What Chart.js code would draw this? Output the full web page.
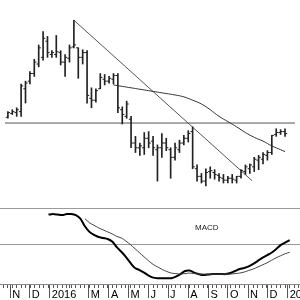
<!DOCTYPE html>
<html>
<head>
<meta charset="utf-8">
<script src="https://cdn.jsdelivr.net/npm/chart.js@4.4.1/dist/chart.umd.min.js"></script>
<style>
  body { margin: 0; background: #fff; }
  #wrap { position: relative; width: 300px; height: 300px; overflow: hidden; background: #fff; }
  #pricePane { position: absolute; left: 0; top: 0; width: 300px; height: 208px; }
  #macdPane { position: absolute; left: 0; top: 208px; width: 300px; height: 92px; }
  #macdLabel { position: absolute; left: 195px; top: 223px; font: 8px "Liberation Sans", Arial, sans-serif; color: #222; }
</style>
</head>
<body>
<div id="wrap">
  <div id="pricePane"><canvas id="priceChart"></canvas></div>
  <div id="macdPane"><canvas id="macdChart"></canvas></div>
  <div id="macdLabel">MACD</div>
</div>
<script>
// veckodata, första veckan
const firstWeek = '2015-10-21';

const highs  = [37.6,38.0,38.4,43.4,44.0,46.0,48.6,51.6,54.4,53.4,50.4,53.6,50.4,49.6,51.6,56.8,51.0,50.6,50.4,42.6,42.4,45.6,45.4,45.0,45.6,45.6,38.6,39.8,36.6,32.4,31.0,33.2,33.4,32.4,30.6,33.0,32.0,30.0,31.0,31.6,32.6,33.6,34.4,26.4,24.6,25.6,26.0,25.4,24.6,24.4,24.0,24.4,24.0,25.4,26.4,26.6,28.0,28.4,29.0,29.4,32.6,34.0,33.8,34.0];
const lows   = [36.2,37.0,36.6,36.6,39.4,43.4,45.0,47.0,48.4,49.0,49.0,49.0,47.4,45.0,48.0,51.0,44.6,47.6,39.4,38.4,39.6,42.4,43.2,43.6,43.4,37.4,35.0,36.2,30.0,29.0,28.4,28.6,30.0,28.4,23.0,28.0,29.4,23.6,27.4,29.0,30.6,31.2,25.6,23.0,22.6,22.0,23.6,23.4,23.0,22.6,22.6,22.6,22.6,23.6,24.4,24.6,25.0,25.4,26.6,27.4,28.6,32.4,32.8,32.4];
const opens  = [36.4,37.2,37.4,37.6,42.4,44.0,45.6,47.6,49.0,52.4,49.6,49.6,50.0,48.0,48.8,51.2,51.0,49.0,50.0,40.4,40.0,42.4,44.4,44.0,44.4,45.2,38.0,36.6,36.0,31.0,30.0,30.0,32.0,31.4,29.6,30.0,31.0,29.6,28.0,29.6,31.0,32.0,33.4,25.6,24.0,23.0,25.0,24.8,24.2,23.6,23.2,23.6,23.2,24.0,25.0,25.6,26.0,27.4,27.6,28.4,29.0,32.8,33.2,33.4];
const closes = [37.4,37.6,38.0,43.0,43.6,45.6,48.0,51.0,53.0,50.0,50.0,50.2,48.0,49.0,51.0,51.6,49.0,50.0,41.0,40.0,42.0,44.8,44.0,44.6,45.2,38.4,37.0,39.2,31.0,30.0,30.4,32.0,31.0,30.0,30.0,31.0,30.0,28.0,30.0,31.0,32.0,33.0,26.0,24.0,23.0,24.8,25.2,24.4,23.8,23.2,23.6,23.4,24.0,25.2,26.0,26.4,27.6,28.0,28.6,29.0,32.6,33.2,33.4,33.0];

// glidande medelvärde
const maWeeks  = [24,26,28,30,32,34,36,38,40,42,44,46,48,50,52,54,56,58,60,62,63];
const maValues = [43.2,42.9,42.6,42.3,42.0,41.7,41.4,41.1,40.7,40.0,39.2,38.0,36.6,35.5,34.4,33.2,32.2,31.4,30.4,29.6,29.2];

// trendlinje och stödnivå
const trendWeeks  = [15, 55.5];
const trendValues = [56.8, 23.1];
const supportLevel = 35.2;

// MACD
const macdStart = 10;
const macdValues = [1.18,1.20,1.18,1.16,1.20,1.20,1.16,1.02,0.72,0.50,0.38,0.30,0.26,0.22,0.12,-0.10,-0.28,-0.48,-0.72,-0.92,-1.00,-1.10,-1.22,-1.30,-1.32,-1.32,-1.32,-1.32,-1.26,-1.16,-1.04,-1.02,-1.10,-1.16,-1.20,-1.18,-1.16,-1.16,-1.16,-1.16,-1.12,-1.04,-0.96,-0.92,-0.86,-0.76,-0.64,-0.52,-0.42,-0.32,-0.18,-0.02,0.08,0.18];
const signalStart = 18;
const signalValues = [1.02,0.86,0.76,0.66,0.58,0.50,0.42,0.32,0.26,0.14,0.00,-0.16,-0.32,-0.48,-0.64,-0.78,-0.88,-0.98,-1.06,-1.12,-1.14,-1.16,-1.14,-1.12,-1.14,-1.16,-1.16,-1.16,-1.16,-1.16,-1.16,-1.16,-1.16,-1.14,-1.12,-1.08,-1.02,-0.96,-0.88,-0.80,-0.72,-0.62,-0.52,-0.44,-0.36,-0.30];

// x-axel
const monthStarts = ['2015-11-01','2015-12-01','2016-01-01','2016-02-01','2016-03-01','2016-04-01','2016-05-01','2016-06-01','2016-07-01','2016-08-01','2016-09-01','2016-10-01','2016-11-01','2016-12-01','2017-01-01'];
const monthLabels = ['N','D','2016','','M','A','M','J','J','A','S','O','N','D','2017'];

const xMin = -0.66, xMax = 65.27;
const priceMin = 18.4, priceMax = 60;
const macdMin = -1.55, macdMax = 1.44;

const DAY = 86400000;
function weekOf(d) {
    return (Date.parse(d) - Date.parse(firstWeek)) / (7 * DAY);
}
const monthPos = monthStarts.map(weekOf);
let weekTicks = [];
for (let w = 0; w <= 65; w++) weekTicks.push(w);
weekTicks = weekTicks.concat(monthPos).sort((a, b) => a - b);

const weeks = highs.map((_, i) => i);
const tickShift = 0.24;
const barColor = '#222';

const common = {
    responsive: true,
    maintainAspectRatio: false,
    animation: false,
    events: [],
    layout: { padding: 0 },
    plugins: { legend: { display: false }, tooltip: { enabled: false } }
};

new Chart(document.getElementById('priceChart'), {
    type: 'bar',
    data: {
        datasets: [
            {
                type: 'bar',
                data: weeks.map(i => ({ x: i, y: [lows[i], highs[i]] })),
                backgroundColor: barColor,
                borderWidth: 0,
                barThickness: 1
            },
            {
                type: 'scatter',
                data: weeks.map(i => ({ x: i - tickShift, y: opens[i] })),
                pointStyle: 'line', pointRadius: 1.1, borderColor: barColor, borderWidth: 1
            },
            {
                type: 'scatter',
                data: weeks.map(i => ({ x: i + tickShift, y: closes[i] })),
                pointStyle: 'line', pointRadius: 1.1, borderColor: barColor, borderWidth: 1
            },
            {
                type: 'line',
                data: maWeeks.map((w, k) => ({ x: w, y: maValues[k] })),
                borderColor: '#333', borderWidth: 1, pointRadius: 0, tension: 0.4
            },
            {
                type: 'line',
                data: trendWeeks.map((w, k) => ({ x: w, y: trendValues[k] })),
                borderColor: '#555', borderWidth: 1, pointRadius: 0
            },
            {
                type: 'line',
                data: [{ x: xMin, y: supportLevel }, { x: xMax, y: supportLevel }],
                borderColor: '#555', borderWidth: 1, pointRadius: 0
            }
        ]
    },
    options: Object.assign({}, common, {
        scales: {
            x: { type: 'linear', min: xMin, max: xMax, offset: false, display: false, grid: { offset: false } },
            y: { type: 'linear', min: priceMin, max: priceMax, display: false, beginAtZero: false }
        }
    })
});

new Chart(document.getElementById('macdChart'), {
    type: 'line',
    data: {
        datasets: [
            {
                data: signalValues.map((v, k) => ({ x: signalStart + k, y: v })),
                borderColor: '#444', borderWidth: 1, pointRadius: 0, tension: 0.3
            },
            {
                data: macdValues.map((v, k) => ({ x: macdStart + k, y: v })),
                borderColor: '#000', borderWidth: 2, pointRadius: 0, tension: 0.3
            }
        ]
    },
    options: Object.assign({}, common, {
        scales: {
            x: {
                type: 'linear', min: xMin, max: xMax, position: 'bottom', weight: 0,
                afterBuildTicks: s => { s.ticks = weekTicks.map(v => ({ value: v })); },
                afterFit: s => { s.height = 4; },
                ticks: { display: false },
                grid: { drawOnChartArea: false, drawTicks: true, tickLength: 4, color: '#555' },
                border: { display: true, color: '#888' }
            },
            xm: {
                type: 'linear', min: xMin, max: xMax, position: 'bottom', weight: 1,
                afterBuildTicks: s => { s.ticks = monthPos.map(v => ({ value: v })); },
                afterFit: s => { s.paddingLeft = 0; s.paddingRight = 0; s.height = 12; },
                ticks: {
                    display: true, autoSkip: false, maxRotation: 0, minRotation: 0,
                    align: 'start', labelOffset: 2, padding: -10, color: '#000',
                    font: { family: '"Liberation Sans", Arial, sans-serif', size: 11 },
                    callback: (v, i) => monthLabels[i]
                },
                grid: {
                    drawOnChartArea: false, drawTicks: true, tickLength: 10, color: '#555',
                    tickColor: ctx => monthLabels[ctx.index] ? '#555' : 'rgba(0,0,0,0)'
                },
                border: { display: false }
            },
            y: {
                type: 'linear', min: macdMin, max: macdMax,
                afterBuildTicks: s => { s.ticks = [{ value: macdMax }, { value: 0 }]; },
                ticks: { display: false },
                grid: { drawTicks: false, color: '#999' },
                border: { display: false }
            }
        }
    })
});
</script>
</body>
</html>
